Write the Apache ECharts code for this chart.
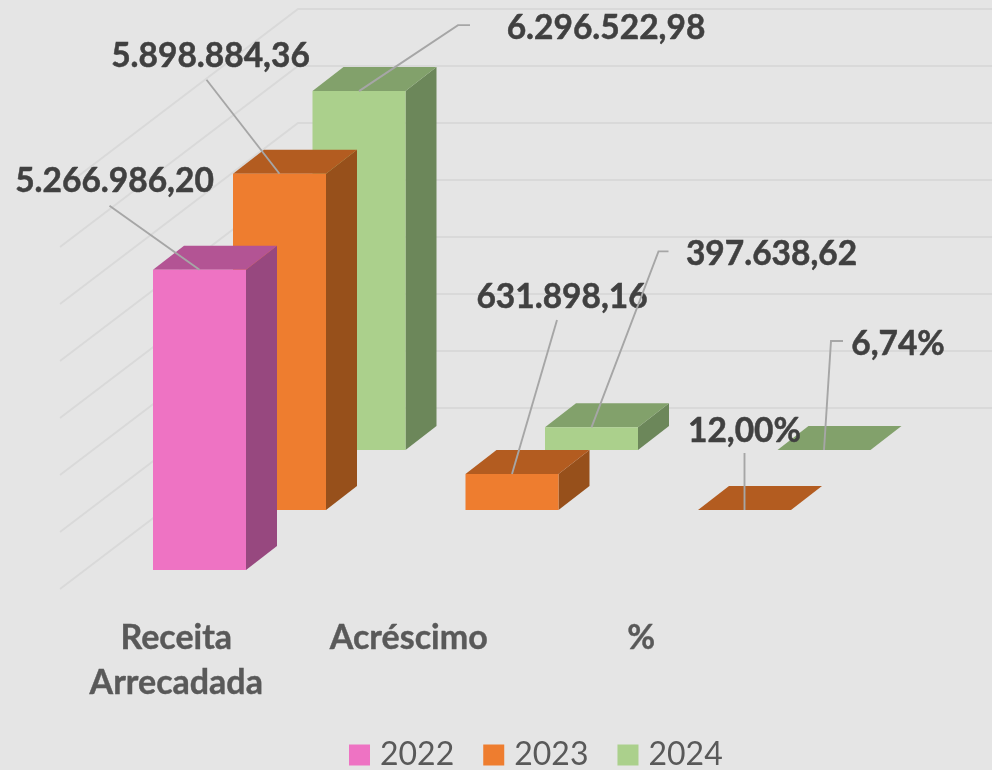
<!DOCTYPE html>
<html>
<head>
<meta charset="utf-8">
<style>html,body{margin:0;padding:0;background:#E5E5E5}#c{width:992px;height:770px}</style>
<script src="https://cdn.jsdelivr.net/npm/echarts@6/dist/echarts.min.js"></script>
</head>
<body>
<div id="c"></div>
<script>
var categories = ['Receita\nArrecadada', 'Acréscimo', '%'];
var years = ['2022', '2023', '2024'];
var values2022 = [5266986.20, null, null];
var values2023 = [5898884.36, 631898.16, 12.00];
var values2024 = [6296522.98, 397638.62, 6.74];
var gridValues = [0, 1000000, 2000000, 3000000, 4000000, 5000000, 6000000, 7000000];

var FONT = 'Lato';
var palette = [
  {front: '#EE73C3', side: '#97487F', top: '#B35494'},
  {front: '#EE7D2F', side: '#97501B', top: '#B35C20'},
  {front: '#ABD08C', side: '#6C875A', top: '#82A16B'}
];
// depth placement of each series row
var rowX = [23.25, 103.25, 182.75];
var rowY = [0, -60, -120];
var BAR_W = 93, DEPTH_X = 31, DEPTH_Y = 24;
// label layout: leader points and label centre, relative to the top-front-centre of each bar
var labelLayout = [
  [{pts: [[-90, -64]], at: [-85, -89]}, null, null],
  [{pts: [[-73, -94]], at: [-69, -118]},
   {pts: [[45, -154]], at: [50, -177]},
   {pts: [[0, -57]], at: [0, -79]}],
  [{pts: [[99, -66], [111, -66]], at: [247, -63]},
   {pts: [[67, -176], [77, -176]], at: [180, -173]},
   {pts: [[7, -109], [19, -109]], at: [74, -106]}]
];

function fmt(v, cat) {
  var s = v.toFixed(2).split('.');
  var txt = s[0].replace(/\B(?=(\d{3})+(?!\d))/g, '.') + ',' + s[1];
  return categories[cat] === '%' ? txt + '%' : txt;
}
function rows(arr) {
  return arr.map(function (v, i) { return [i, v]; }).filter(function (d) { return d[1] !== null; });
}
function barItem(row) {
  return function (params, api) {
    var c = palette[row];
    var t = api.coord([api.value(0), api.value(1)]);
    var b = api.coord([api.value(0), 0]);
    var l = b[0] + rowX[row] - BAR_W / 2, r = l + BAR_W;
    var yb = b[1] + rowY[row], yt = t[1] + rowY[row];
    var kids = [
      {type: 'polygon', shape: {points: [[r, yt], [r + DEPTH_X, yt - DEPTH_Y], [r + DEPTH_X, yb - DEPTH_Y], [r, yb]]}, style: {fill: c.side}},
      {type: 'polygon', shape: {points: [[l, yt], [l + DEPTH_X, yt - DEPTH_Y], [r + DEPTH_X, yt - DEPTH_Y], [r, yt]]}, style: {fill: c.top}}
    ];
    if (yb - yt >= 1) kids.push({type: 'rect', shape: {x: l, y: yt, width: BAR_W, height: yb - yt}, style: {fill: c.front}});
    return {type: 'group', children: kids};
  };
}
function labelItem(row) {
  return function (params, api) {
    var cat = api.value(0), v = api.value(1);
    var lay = labelLayout[row][cat];
    var t = api.coord([cat, v]);
    var ax = t[0] + rowX[row], ay = t[1] + rowY[row];
    var pts = [[ax, ay]].concat(lay.pts.map(function (p) { return [ax + p[0], ay + p[1]]; }));
    return {type: 'group', children: [
      {type: 'polyline', shape: {points: pts}, style: {stroke: '#A6A6A6', lineWidth: 1.9, fill: null}},
      {type: 'text', x: ax + lay.at[0], y: ay + lay.at[1], style: {
        text: fmt(v, cat), fill: '#404040', stroke: '#404040', lineWidth: 0.5,
        font: 'bold 33.5px ' + FONT, align: 'center', verticalAlign: 'middle'
      }}
    ]};
  };
}
function wallItem(params, api) {
  var p = api.coord([0, api.value(0)]);
  var front = params.coordSys.x, back = front + 238;
  var yf = p[1] + 19, yk = yf - 181;
  return {type: 'group', children: [
    {type: 'polyline', shape: {points: [[front, yf], [back, yk], [api.getWidth(), yk]]},
     style: {stroke: '#D9D9D9', lineWidth: 1.8, fill: null}}
  ]};
}

var seriesValues = [values2022, values2023, values2024];
var series = [{
  type: 'custom', name: 'wall', silent: true, z: 1,
  data: gridValues.map(function (v) { return [v]; }),
  encode: {y: 0},
  renderItem: wallItem
}];
seriesValues.forEach(function (vals, i) {
  series.push({
    type: 'custom', name: years[i], z: 6 - i,
    itemStyle: {color: palette[i].front},
    data: rows(vals), encode: {x: 0, y: 1},
    renderItem: barItem(i)
  });
});
seriesValues.forEach(function (vals, i) {
  series.push({
    type: 'custom', name: years[i], z: 10, silent: true,
    itemStyle: {color: palette[i].front},
    data: rows(vals), encode: {x: 0, y: 1},
    renderItem: labelItem(i)
  });
});

var chart = echarts.init(document.getElementById('c'), null, {renderer: 'canvas'});
chart.setOption({
  animation: false,
  backgroundColor: '#E5E5E5',
  grid: {left: 60, top: 0, width: 697.5, height: 570, containLabel: false},
  xAxis: {
    type: 'category', data: categories,
    axisLine: {show: false}, axisTick: {show: false}, splitLine: {show: false},
    axisLabel: {margin: 46, color: '#595959', fontFamily: FONT, fontWeight: 'bold', fontSize: 34, lineHeight: 45, interval: 0,
      textBorderColor: '#595959', textBorderWidth: 0.4}
  },
  yAxis: {type: 'value', min: 0, max: 10000000, interval: 1000000, show: false},
  legend: {
    data: years, left: 344, top: 734, icon: 'rect', itemWidth: 21, itemHeight: 21, itemGap: 29,
    selectedMode: false,
    textStyle: {color: '#595959', fontFamily: FONT, fontSize: 32, padding: [0, 0, 0, 5]}
  },
  series: series
});
</script>
</body>
</html>
